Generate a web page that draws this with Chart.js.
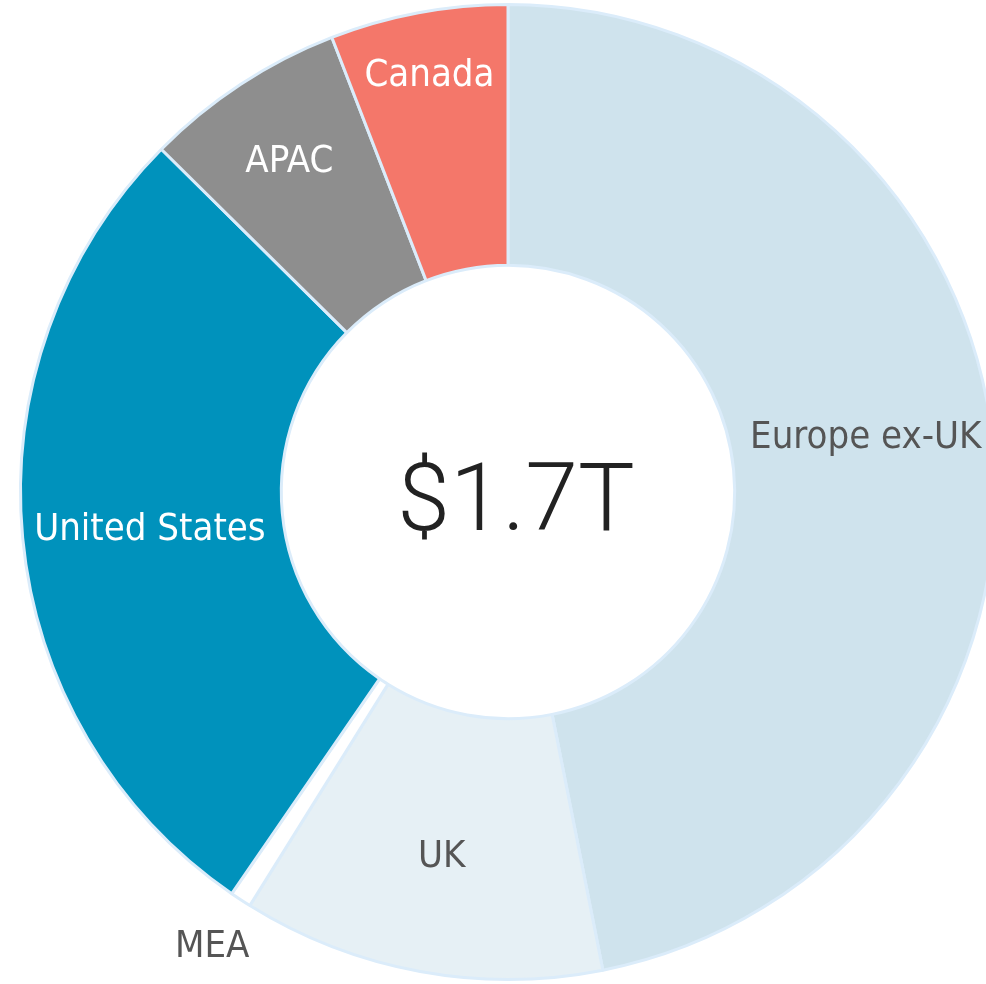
<!DOCTYPE html>
<html>
<head>
<meta charset="utf-8">
<script src="https://cdn.jsdelivr.net/npm/chart.js@4"></script>
<style>
    html, body { margin: 0; padding: 0; background: #ffffff; overflow: hidden; }
    #wrap { position: absolute; left: 0; top: 0; width: 1016px; height: 984px; }
</style>
</head>
<body>
<div id="wrap"><canvas id="myChart" width="1016" height="984"></canvas></div>
<script>
// Daten (Mrd. USD)
const regionen = ['Europe ex-UK', 'UK', 'MEA', 'United States', 'APAC', 'Canada'];
const werte = [797, 204, 12, 473, 114, 100];
const farben = ['#cfe3ed', '#e6f0f5', '#ffffff', '#0092bc', '#8e8e8e', '#f4776a'];
const labelFarben = ['#555555', '#555555', '#555555', '#ffffff', '#ffffff', '#ffffff'];
const gesamtText = '$1.7T';

// Label-Position: Anteil der Ringdicke, Winkelkorrektur in Grad
const labelRadius = [0.52, 0.54, 1.2, 0.51, 0.66, 0.77];
const labelWinkel = [-3.5, 0, 0, 0, 0, 0];

const labelFont = '"DejaVu Sans Condensed", "DejaVu Sans", sans-serif';

const labelPlugin = {
    id: 'sliceLabels',
    afterDatasetsDraw(chart) {
        const ctx = chart.ctx;
        const arcs = chart.getDatasetMeta(0).data;
        ctx.save();
        ctx.textAlign = 'center';
        ctx.textBaseline = 'alphabetic';
        arcs.forEach((arc, i) => {
            const p = arc.getProps(['x', 'y', 'startAngle', 'endAngle', 'innerRadius', 'outerRadius'], true);
            const a = (p.startAngle + p.endAngle) / 2 + labelWinkel[i] * Math.PI / 180;
            const r = p.innerRadius + labelRadius[i] * (p.outerRadius - p.innerRadius);
            const size = 38;
            ctx.font = size + 'px ' + labelFont;
            ctx.fillStyle = labelFarben[i];
            ctx.fillText(regionen[i], p.x + Math.cos(a) * r, p.y + Math.sin(a) * r + size * 0.365);
        });
        // Mitte
        const c = arcs[0];
        ctx.font = '300 95px Roboto, "Open Sans", sans-serif';
        ctx.fillStyle = '#222222';
        ctx.fillText(gesamtText, c.x + 8, c.y + 38);
        ctx.restore();
    }
};

const ctx = document.getElementById('myChart').getContext('2d');
const myChart = new Chart(ctx, {
    type: 'doughnut',
    data: {
        labels: regionen,
        datasets: [{
            data: werte,
            backgroundColor: farben,
            borderColor: '#dbecfa',
            borderWidth: 3
        }]
    },
    options: {
        responsive: false,
        animation: false,
        cutout: '46.5%',
        layout: { padding: 3 },
        plugins: {
            legend: { display: false },
            tooltip: { enabled: false }
        }
    },
    plugins: [labelPlugin]
});
</script>
</body>
</html>
